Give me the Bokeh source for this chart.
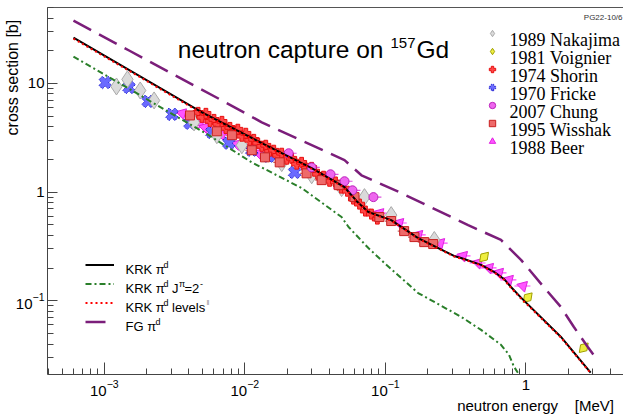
import math
from bokeh.plotting import figure
from bokeh.models import (Range1d, LogTicker, LogTickFormatter, LogAxis, FixedTicker,
                          Label, Legend, LegendItem)
from bokeh.embed import file_html
from bokeh.resources import INLINE

# ---------------- data (energy in MeV, cross section in b) ----------------
krk_E = [6.03e-4, 4.95e-3, 1.32e-2, 2.99e-2, 5.12e-2, 6.44e-2, 7.57e-2, 0.110, 0.171,
         0.308, 0.346, 0.480, 0.593, 0.698, 0.783, 0.923, 1.77, 2.89]
krk_S = [26.4, 5.42, 2.82, 1.66, 1.11, 0.793, 0.656, 0.553, 0.378,
         0.259, 0.248, 0.214, 0.185, 0.159, 0.134, 0.107, 0.0468, 0.0218]

lev_E = [6.03e-4, 4.95e-3, 1.32e-2, 2.99e-2, 5.12e-2, 6.44e-2, 7.57e-2, 0.110, 0.171,
         0.308, 0.346, 0.480, 0.593, 0.698, 0.783, 0.923, 1.77, 2.89]
lev_S = [25.9, 5.33, 2.78, 1.64, 1.10, 0.785, 0.650, 0.548, 0.374,
         0.256, 0.245, 0.212, 0.183, 0.157, 0.132, 0.105, 0.0462, 0.0216]

j2_E = [6.03e-4, 5.56e-3, 1.12e-2, 2.54e-2, 4.88e-2, 5.47e-2, 7.57e-2, 9.84e-2, 0.171,
        0.346, 0.480, 0.665, 0.757, 0.822, 0.877]
j2_S = [17.7, 3.33, 1.88, 1.09, 0.590, 0.478, 0.306, 0.223, 0.118,
        0.0713, 0.054, 0.0394, 0.032, 0.0248, 0.0218]

fg_E = [6.03e-4, 1.50e-3, 6.87e-3, 1.32e-2, 5.12e-2, 6.76e-2, 0.130, 0.388, 0.665,
        0.923, 1.34, 1.77, 2.19, 2.75, 3.24]
fg_S = [37.8, 20.1, 6.98, 4.39, 1.97, 1.43, 0.98, 0.498, 0.363,
        0.238, 0.134, 0.0881, 0.0577, 0.0378, 0.0282]

nak_E = [1.22e-3, 1.46e-3, 1.80e-3, 2.26e-3, 4.35e-3, 6.32e-3, 9.52e-3, 0.0183, 0.0299,
         0.0488, 0.0710, 0.110, 0.223]
nak_S = [9.38, 10.9, 8.62, 6.98, 4.38, 3.34, 2.70, 1.85, 1.43, 1.09, 0.90, 0.615, 0.363]

voi_E = [0.504, 1.03, 2.58]
voi_S = [0.253, 0.107, 0.037]

sho_E = [4.65e-3, 4.95e-3, 5.28e-3, 5.65e-3, 6.03e-3, 6.44e-3, 6.87e-3, 7.33e-3, 7.83e-3,
         8.36e-3, 8.91e-3, 9.52e-3, 0.01016, 0.01084, 0.01158, 0.01236, 0.01320, 0.01409,
         0.01503, 0.01606, 0.01714, 0.01829, 0.01986, 0.02153, 0.02338, 0.02535, 0.02752,
         0.02985, 0.03296, 0.03631, 0.04009, 0.04416, 0.04875, 0.05370, 0.05929, 0.06546,
         0.07211, 0.07962, 0.08770]
sho_S = [5.42, 4.88, 5.31, 4.48, 4.67, 4.21, 4.48, 3.86, 3.94,
         3.63, 3.79, 3.27, 3.48, 3.00, 3.06, 2.82, 2.64, 2.70,
         2.38, 2.43, 2.18, 2.28, 2.01, 2.05, 1.81, 1.88, 1.66,
         1.69, 1.46, 1.40, 1.26, 1.24, 1.09, 1.02, 0.863, 0.776,
         0.670, 0.628, 0.565]

fri_E = [1.016e-3, 1.50e-3, 2.05e-3, 3.03e-3, 4.07e-3, 5.83e-3, 7.70e-3, 0.0112, 0.0148, 0.0226]
fri_S = [10.2, 9.19, 6.84, 5.20, 4.30, 3.55, 2.82, 2.43, 2.14, 1.52]

chu_E = [0.0205, 0.0299, 0.0407, 0.0512, 0.0583, 0.0822]
chu_S = [2.28, 1.69, 1.46, 1.26, 1.04, 0.90]

wis_E = [4.07e-3, 6.32e-3, 8.09e-3, 0.0112, 0.0139, 0.0177, 0.0275, 0.0352, 0.0465,
         0.0603, 0.0906, 0.110, 0.136, 0.161, 0.189, 0.219]
wis_S = [5.08, 3.63, 3.34, 2.43, 2.09, 1.88, 1.49, 1.29, 1.16,
         0.90, 0.59, 0.542, 0.438, 0.386, 0.347, 0.333]

bee_E = [3.57e-3, 4.80e-3, 5.20e-3, 6.87e-3, 8.77e-3, 0.01084, 0.01255, 0.0488, 0.0906,
         0.1256, 0.1714, 0.2455, 0.357, 0.457, 0.547, 0.644, 0.757, 0.953]
bee_S = [5.31, 4.38, 3.94, 3.40, 2.76, 2.59, 2.28, 1.09, 0.641,
         0.520, 0.404, 0.340, 0.259, 0.223, 0.201, 0.181, 0.156, 0.137]

x_overrides = {1: "1"}
y_overrides = {1: "1", 10: "10"}

NB = "\u00a0"
x_title = "neutron energy" + NB * 4 + "[MeV]"
y_title = "cross section [b]"

# ---------------- figure ----------------
W, H = 623, 416
FL, FT, FB = 45, 7, 375

p = figure(width=W, height=H, x_axis_type="log", y_axis_type="log",
           x_range=Range1d(3.94e-4, 4.95), y_range=Range1d(0.021, 50.0),
           output_backend="svg", toolbar_location=None,
           min_border_left=FL, min_border_right=0, min_border_top=FT,
           min_border_bottom=H - FB)
p.outline_line_color = None
p.grid.visible = False
p.background_fill_color = "white"
p.border_fill_color = "white"

AX = "#444444"
for ax, tin, ov in ((p.xaxis[0], 12, x_overrides), (p.yaxis[0], 10, y_overrides)):
    ax.ticker = LogTicker(mantissas=[1], num_minor_ticks=10, desired_num_ticks=5)
    ax.formatter = LogTickFormatter()
    ax.major_label_overrides = ov
    ax.major_tick_in = tin
    ax.major_tick_out = 0
    ax.minor_tick_in = 6
    ax.minor_tick_out = 0
    ax.axis_line_color = AX
    ax.major_tick_line_color = AX
    ax.minor_tick_line_color = AX
    ax.major_label_text_font = "Liberation Sans"
    ax.major_label_text_font_size = "15px"
    ax.major_label_text_color = "black"
    ax.axis_label_text_font = "Liberation Sans"
    ax.axis_label_text_font_style = "normal"
    ax.axis_label_text_color = "black"

xa, ya = p.xaxis[0], p.yaxis[0]
xa.major_label_standoff = 5
ya.major_label_standoff = 3
xa.axis_label_text_font_size = "15px"
ya.axis_label_text_font_size = "16px"
xa.axis_label_standoff = -2
ya.axis_label_standoff = -8
# centred titles, pushed towards the axis ends with leading no-break spaces
xa.axis_label = NB * 96 + x_title
ya.axis_label = NB * 51 + y_title

top = LogAxis(ticker=FixedTicker(ticks=[]), axis_line_color="#555555",
              major_tick_line_color=None, minor_tick_line_color=None,
              major_label_text_font_size="0px", major_tick_in=0, major_tick_out=0,
              minor_tick_in=0, minor_tick_out=0, major_label_standoff=0)
p.add_layout(top, "above")

# ---------------- data points ----------------
def hbars(E, S, f, color):
    p.segment(x0=[e * (1 - f) for e in E], y0=S, x1=[e * (1 + f) for e in E], y1=S,
              line_color=color, line_width=1.2)

hbars(wis_E, wis_S, 0.10, "#c86060")
hbars(chu_E, chu_S, 0.14, "#dd55dd")
hbars(bee_E, bee_S, 0.13, "#ff44ff")

r_bee = p.scatter(bee_E, bee_S, marker="triangle", angle=-math.pi / 4, size=11,
                  fill_color="#ff55ff", line_color="#e020e0", line_width=1)
r_fri = p.scatter(fri_E, fri_S, marker="plus", angle=math.pi / 4, size=13,
                  fill_color="#6a6aff", line_color="#2323d0", line_width=1, line_dash="2 1")
r_nak = p.scatter(nak_E, nak_S, marker="diamond", size=17,
                  fill_color="#dadada", line_color="#aaaaaa", line_width=1)
r_sho = p.scatter(sho_E, sho_S, marker="plus", size=10,
                  fill_color="#ff4646", line_color="#e81010", line_width=1)
r_wis = p.scatter(wis_E, wis_S, marker="square", size=9,
                  fill_color="#ee6a6a", line_color="#c82020", line_width=1)
r_chu = p.scatter(chu_E, chu_S, marker="circle", size=9,
                  fill_color="#ee66ee", line_color="#bb22bb", line_width=1)
r_voi = p.scatter(voi_E, voi_S, marker="diamond", angle=-0.75, size=13,
                  fill_color="#eeee40", line_color="#a0a000", line_width=1)

# ---------------- curves ----------------
r_fg = p.line(fg_E, fg_S, line_color="#7b1e7a", line_width=2.5, line_dash="20 9")
r_j2 = p.line(j2_E, j2_S, line_color="#2a7f2a", line_width=2, line_dash="6 3 2 3")
r_krk = p.line(krk_E, krk_S, line_color="black", line_width=2)
r_lev = p.line(lev_E, lev_S, line_color="#ff0000", line_width=2, line_dash="2 3")

# ---------------- legends (glyphs) ----------------
def sx(px):
    return px - FL

def sy(py):
    return FB - py

ROW1 = 18
TOP1 = 25
leg1 = Legend(items=[LegendItem(label=" ", renderers=[r]) for r in
                     (r_nak, r_voi, r_sho, r_fri, r_chu, r_wis, r_bee)],
              location=(sx(482), sy(TOP1 + 7 * ROW1)),
              glyph_width=16, glyph_height=ROW1, label_height=ROW1, spacing=0,
              padding=0, margin=0, label_standoff=0, label_width=1,
              label_text_font_size="6px", border_line_color=None,
              background_fill_alpha=0)
p.add_layout(leg1)

ROW2 = 19
TOP2 = 256
leg2 = Legend(items=[LegendItem(label=" ", renderers=[r]) for r in
                     (r_krk, r_j2, r_lev, r_fg)],
              location=(sx(83), sy(TOP2 + 4 * ROW2)),
              glyph_width=29, glyph_height=ROW2, label_height=ROW2, spacing=0,
              padding=0, margin=0, label_standoff=0, label_width=1,
              label_text_font_size="6px", border_line_color=None,
              background_fill_alpha=0)
p.add_layout(leg2)

# ---------------- texts ----------------
def lab(text, px, py, size, font="Liberation Sans", align="left", angle=0.0,
        color="black", baseline="alphabetic"):
    p.add_layout(Label(x=sx(px), y=sy(py), x_units="screen", y_units="screen",
                       text=text, text_font=font, text_font_size=f"{size}px",
                       text_align=align, text_baseline=baseline, angle=angle,
                       text_color=color))

# title
lab("neutron capture on", 381, 49.5, 24.5, align="right")
lab("157", 388, 43, 15)
lab("Gd", 414, 49.5, 24.5)
lab("PG22-10/6", 620, 18, 8, color="#333333", align="right")

# data legend texts
names = ["1989 Nakajima", "1981 Voignier", "1974 Shorin", "1970 Fricke",
         "2007 Chung", "1995 Wisshak", "1988 Beer"]
for i, n in enumerate(names):
    lab(n, 507, TOP1 + ROW1 / 2 + i * ROW1 + 6, 18, font="Liberation Serif")

# curve legend texts
rows2 = [TOP2 + ROW2 / 2 + i * ROW2 + 4.5 for i in range(4)]
F, FS = 13, 9
lab("KRK \u03c0", 123, rows2[0], F)
lab("d", 161, rows2[0] - 5, FS)
lab("KRK \u03c0", 123, rows2[1], F)
lab("d", 161, rows2[1] - 5, FS)
lab("J", 169.5, rows2[1], F)
lab("\u03c0", 176.5, rows2[1] - 5, FS)
lab("=2", 182, rows2[1], F)
lab("-", 197.5, rows2[1] - 5, FS)
lab("KRK \u03c0", 123, rows2[2], F)
lab("d", 161, rows2[2] - 5, FS)
lab("levels", 169.5, rows2[2], F)
lab("\u01c1", 204, rows2[2] - 5, 7, color="#888888")
lab("FG \u03c0", 123, rows2[3], F)
lab("d", 153, rows2[3] - 5, FS)

open("out.html", "w").write(file_html(p, INLINE))
